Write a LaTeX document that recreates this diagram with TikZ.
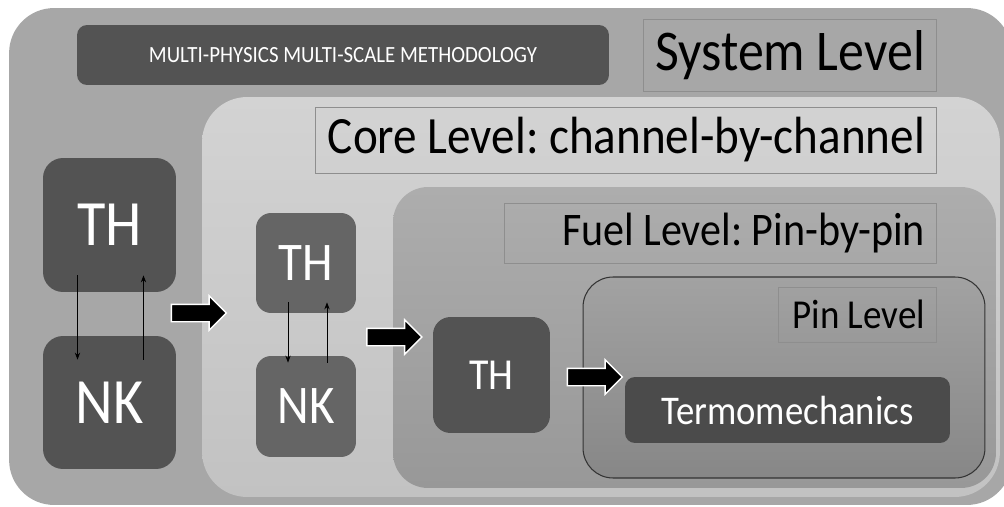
\documentclass[tikz,border=0pt]{standalone}
\usepackage{fontspec}
\setmainfont{Carlito}[FakeStretch=0.9]
\usetikzlibrary{shapes.arrows,arrows.meta}
\definecolor{outergray}{HTML}{A7A7A7}
\definecolor{coretop}{HTML}{D3D3D3}
\definecolor{corebottom}{HTML}{C2C2C2}
\definecolor{fueltop}{HTML}{ADADAD}
\definecolor{fuelbottom}{HTML}{989898}
\definecolor{pintop}{HTML}{A2A2A2}
\definecolor{pinbottom}{HTML}{878787}
\definecolor{boxdark}{HTML}{535353}
\definecolor{boxmid}{HTML}{656565}
\definecolor{labelline}{HTML}{8E8E8E}
\newcommand{\rightlabel}[2]{\makebox[#1][r]{#2\kern0.22cm}}
\frenchspacing
\begin{document}
\begin{tikzpicture}[x=0.02cm, y=-0.02cm,
    levelbox/.style={rectangle, rounded corners=0.9cm, inner sep=0pt},
    darkbox/.style={rectangle, rounded corners=0.4cm, fill=boxdark, text=white, inner sep=0pt},
    labelbox/.style={rectangle, draw=labelline, line width=0.5pt, inner sep=0pt},
    bigarrow/.style={single arrow, fill=black, draw=white, line width=0.8pt, inner xsep=0pt, inner ysep=0.16cm, single arrow head extend=0.17cm, minimum height=1.1cm},
    linkarrow/.style={-{Stealth[length=4pt,width=3pt]}, line width=0.5pt}
]
    \fill[white] (0,0) rectangle (1004,507);
    \useasboundingbox (0,0) rectangle (1004,507);
    \clip (0,0) rectangle (1004,507);

    \node[levelbox, fill=outergray, minimum width=20.06cm, minimum height=9.94cm] (system) at (510.5,256.5) {};
    \node[darkbox, rounded corners=0.2cm, minimum width=10.64cm, minimum height=1.2cm, font=\fontsize{13.2}{15}\selectfont] (title) at (343,55) {MULTI-PHYSICS MULTI-SCALE METHODOLOGY};
    \node[labelbox, minimum height=1.44cm, font=\fontsize{32.8}{37}\selectfont] (systemlabel) at (789.5,55) {\rightlabel{5.86cm}{System Level}};

    \node[levelbox, top color=coretop, bottom color=corebottom, minimum width=15.96cm, minimum height=8cm] (core) at (601,297) {};
    \node[labelbox, minimum height=1.32cm, font=\fontsize{29.8}{34}\selectfont] (corelabel) at (625.5,140) {\rightlabel{12.42cm}{Core Level: channel-by-channel}};

    \node[levelbox, rounded corners=0.7cm, top color=fueltop, bottom color=fuelbottom, minimum width=12.06cm, minimum height=6.02cm] (fuel) at (694.5,337.5) {};
    \node[labelbox, minimum height=1.2cm, font=\fontsize{26.6}{31}\selectfont] (fuellabel) at (720,233) {\rightlabel{8.64cm}{Fuel Level: Pin-by-pin}};

    \node[levelbox, rounded corners=0.6cm, draw=black!80, line width=0.6pt, top color=pintop, bottom color=pinbottom, minimum width=8.04cm, minimum height=4.02cm] (pin) at (784,377.5) {};
    \node[labelbox, minimum height=1.1cm, font=\fontsize{23.4}{28}\selectfont] (pinlabel) at (857,314.5) {\rightlabel{3.16cm}{Pin Level}};
    \node[darkbox, rounded corners=0.2cm, fill=boxdark!90!black, minimum width=6.5cm, minimum height=1.32cm, font=\fontsize{23.2}{28}\selectfont] (termo) at (787.5,410) {Termomechanics};

    \node[darkbox, minimum width=2.66cm, minimum height=2.68cm, font=\fontsize{36.8}{44}\selectfont] (thL) at (109.5,225) {TH};
    \node[darkbox, minimum width=2.66cm, minimum height=2.66cm, font=\fontsize{36.8}{44}\selectfont] (nkL) at (109.5,402.5) {NK};
    \draw[linkarrow] ([xshift=-0.64cm,yshift=0.34cm]thL.south) -- ([xshift=-0.64cm,yshift=-0.48cm]nkL.north);
    \draw[linkarrow] ([xshift=0.68cm,yshift=-0.48cm]nkL.north) -- ([xshift=0.68cm,yshift=0.34cm]thL.south);

    \node[darkbox, rounded corners=0.3cm, fill=boxmid, minimum width=2cm, minimum height=2cm, font=\fontsize{31}{37}\selectfont] (thM) at (306,263) {TH};
    \node[darkbox, rounded corners=0.3cm, fill=boxmid, minimum width=2cm, minimum height=2.02cm, font=\fontsize{31}{37}\selectfont] (nkM) at (306,406.5) {NK};
    \draw[linkarrow] ([xshift=-0.36cm,yshift=0.22cm]thM.south) -- ([xshift=-0.36cm,yshift=-0.14cm]nkM.north);
    \draw[linkarrow] ([xshift=0.42cm,yshift=-0.14cm]nkM.north) -- ([xshift=0.42cm,yshift=0.22cm]thM.south);

    \node[darkbox, rounded corners=0.35cm, minimum width=2.34cm, minimum height=2.32cm, font=\fontsize{25.2}{30}\selectfont] (thF) at (491.5,375) {TH};

    \node[bigarrow] (toCore) at (194.5,313) {};
    \node[bigarrow] (toFuel) at (390,337) {};
    \node[bigarrow] (toPin) at (590.5,377) {};
\end{tikzpicture}
\end{document}
